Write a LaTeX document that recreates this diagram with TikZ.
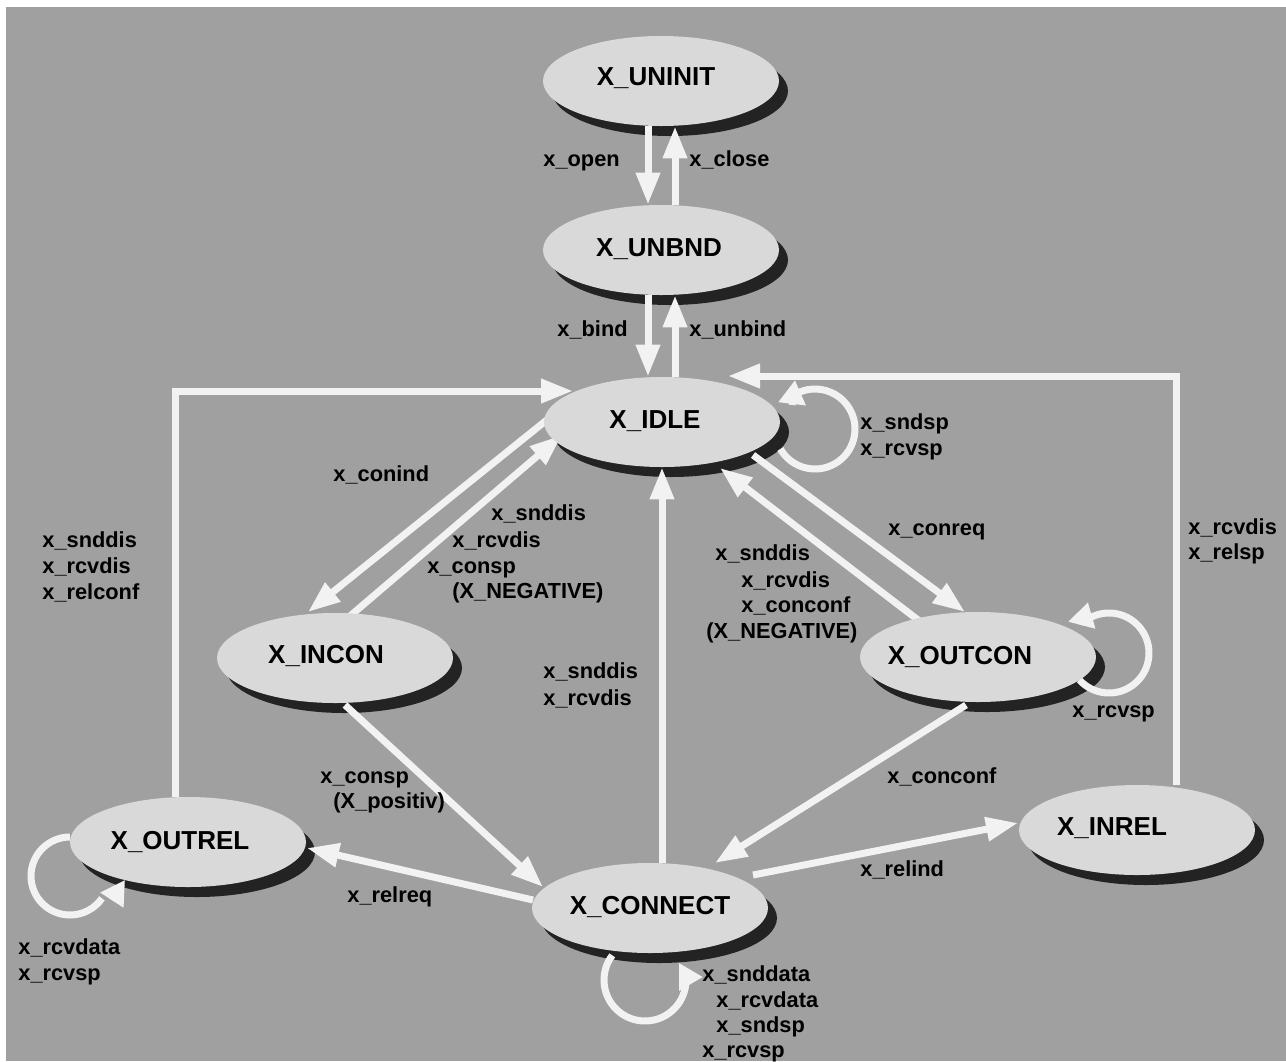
\documentclass[tikz,border=0pt]{standalone}
\usepackage{fontspec}
\setmainfont{Liberation Sans}
\usetikzlibrary{arrows.meta,shapes.geometric}
\definecolor{bg}{HTML}{A0A0A0}
\definecolor{statefill}{HTML}{D9D9D9}
\definecolor{shadowc}{HTML}{232323}
\definecolor{linec}{HTML}{F2F2F2}
\pgfdeclarelayer{canvas}
\pgfdeclarelayer{shadows}
\pgfdeclarelayer{edges}
\pgfsetlayers{canvas,shadows,edges,main}

\begin{document}
\begin{tikzpicture}[x=0.5pt,y=-0.5pt,
  state/.style={ellipse, fill=statefill, minimum width=118pt, minimum height=45pt, inner sep=0pt},
  statename/.style={font=\bfseries\fontsize{13}{15}\selectfont, inner sep=0pt, text height=0.716em, text depth=0pt},
  lbl/.style={font=\bfseries\fontsize{10.9}{13}\selectfont, inner sep=0pt, anchor=base west},
  edge/.style={color=linec, line width=3.5pt, -{Triangle[length=16pt,width=11.5pt]}},
  ring/.style={color=linec, line width=3.5pt},
  loophead/.style={color=linec, line width=3.5pt, -{Triangle[length=12pt,width=13pt]}},
]
% canvas
\useasboundingbox (0,0) rectangle (1286,1061);
\begin{pgfonlayer}{canvas}
\fill[white] (0,0) rectangle (1286,1061);
\fill[bg] (6,7) rectangle (1286,1061);
\end{pgfonlayer}

% states
\node[state] (uninit)  at (661,81)   {};
\node[state] (unbnd)   at (661,250)  {};
\node[state] (idle)    at (662,422)  {};
\node[state] (incon)   at (335,658)  {};
\node[state] (outcon)  at (978,657)  {};
\node[state] (outrel)  at (188,842)  {};
\node[state] (connect) at (650,908)  {};
\node[state] (inrel)   at (1137,830) {};

\node[statename] (uninitT)  at (656,78)   {X\_UNINIT};
\node[statename] (unbndT)   at (659,249)  {X\_UNBND};
\node[statename] (idleT)    at (655,421)  {X\_IDLE};
\node[statename] (inconT)   at (326,656)  {X\_INCON};
\node[statename] (outconT)  at (960,657)  {X\_OUTCON};
\node[statename] (outrelT)  at (180,842)  {X\_OUTREL};
\node[statename] (connectT) at (650,907)  {X\_CONNECT};
\node[statename] (inrelT)   at (1112,828) {X\_INREL};

% drop shadows of the states
\begin{pgfonlayer}{shadows}
\foreach \s in {uninit,unbnd,idle,incon,outcon,outrel,connect,inrel}
  \fill[shadowc] ([shift={(9,10)}]\s.center) ellipse[x radius=118, y radius=45];
\end{pgfonlayer}

% transitions
\begin{pgfonlayer}{edges}
\draw[edge] ([xshift=-6.5pt]uninit.south) -- ([xshift=-6.5pt]unbnd.north);
\draw[edge] ([xshift=7pt]unbnd.north) -- ([xshift=7pt]uninit.south);
\draw[edge] ([xshift=-6.5pt]unbnd.south) -- ([xshift=-7pt]idle.north);
\draw[edge] ([xshift=6.5pt]idle.north) -- ([xshift=7pt]unbnd.south);

\draw[edge] ([shift={(-114,-3)}]idle.center) -- ([shift={(-27,-46)}]incon.center);
\draw[edge] ([shift={(8,-36)}]incon.center) -- ([shift={(-100,13)}]idle.center);
\draw[edge] ([shift={(91,33)}]idle.center) -- ([shift={(-13,-45)}]outcon.center);
\draw[edge] ([shift={(-56,-34)}]outcon.center) -- ([shift={(58,46)}]idle.center);
\draw[edge] (idle.south |- connect.north) -- (idle.south);
\draw[edge] ([shift={(10,47)}]incon.center) -- ([shift={(-107,-21)}]connect.center);
\draw[edge] ([shift={(-12,48)}]outcon.center) -- ([shift={(65,-45)}]connect.center);
\draw[edge] ([shift={(103,-33)}]connect.center) -- ([shift={(-119,-7)}]inrel.center);
\draw[edge] ([shift={(-117,-8)}]connect.center) -- ([shift={(119,6)}]outrel.center);
\draw[edge] ([xshift=-6.5pt]outrel.north) |- ([shift={(-89,-31)}]idle.center);
\draw[edge] ([xshift=19.5pt]inrel.north) |- ([shift={(66,-46)}]idle.center);

% self loops
\coordinate (idleC)    at ([shift={(153,7)}]idle.center);
\coordinate (outconC)  at ([shift={(131,-4)}]outcon.center);
\coordinate (connectC) at ([shift={(-5,72)}]connect.center);
\coordinate (outrelC)  at ([shift={(-118,34)}]outrel.center);

\draw[ring] (idleC) ++(150:40) arc[start angle=150, end angle=-132, radius=40];
\draw[loophead] ([shift={(-23,-24)}]idleC) -- ([shift={(-20,-49)}]idleC);

\draw[ring] (outconC) ++(138:40) arc[start angle=138, end angle=-125, radius=40];
\draw[loophead] ([shift={(-27,-28)}]outconC) -- ([shift={(-21,-51)}]outconC);

\draw[ring] (connectC) ++(217:41) arc[start angle=217, end angle=0, radius=41];
\draw[loophead] ([shift={(35,-3)}]connectC) -- ([shift={(58,-3)}]connectC);

\draw[ring] (outrelC) ++(270:39) arc[start angle=270, end angle=35, radius=39];
\draw[loophead] ([shift={(42,24)}]outrelC) -- ([shift={(55,4)}]outrelC);
\end{pgfonlayer}

% transition labels
\node[lbl] (lOpen)   at (543,166) {x\_open};
\node[lbl] (lClose)  at (689,166) {x\_close};
\node[lbl] (lBind)   at (557,336) {x\_bind};
\node[lbl] (lUnbind) at (689,336) {x\_unbind};

\node[lbl] (lIdle1) at (860,429) {x\_sndsp};
\node[lbl] (lIdle2) at (860,455) {x\_rcvsp};

\node[lbl] (lConind) at (333,481) {x\_conind};

\node[lbl] (lOr1) at (42,547) {x\_snddis};
\node[lbl] (lOr2) at (42,573) {x\_rcvdis};
\node[lbl] (lOr3) at (42,599) {x\_relconf};

\node[lbl] (lIn1) at (491,520) {x\_snddis};
\node[lbl] (lIn2) at (452,547) {x\_rcvdis};
\node[lbl] (lIn3) at (427,573) {x\_consp};
\node[lbl] (lIn4) at (452,598) {(X\_NEGATIVE)};

\node[lbl] (lConreq) at (888,535) {x\_conreq};

\node[lbl] (lOc1) at (715,560) {x\_snddis};
\node[lbl] (lOc2) at (741,587) {x\_rcvdis};
\node[lbl] (lOc3) at (741,612) {x\_conconf};
\node[lbl] (lOc4) at (706,638) {(X\_NEGATIVE)};

\node[lbl] (lIr1) at (1188,534) {x\_rcvdis};
\node[lbl] (lIr2) at (1188,559) {x\_relsp};

\node[lbl] (lCi1) at (543,678) {x\_snddis};
\node[lbl] (lCi2) at (543,705) {x\_rcvdis};

\node[lbl] (lOcLoop) at (1072,717) {x\_rcvsp};

\node[lbl] (lConsp1) at (320,783) {x\_consp};
\node[lbl] (lConsp2) at (333,808) {(X\_positiv)};

\node[lbl] (lConconf) at (887,783) {x\_conconf};
\node[lbl] (lRelind)  at (860,876) {x\_relind};
\node[lbl] (lRelreq)  at (347,902) {x\_relreq};

\node[lbl] (lOrl1) at (18,954) {x\_rcvdata};
\node[lbl] (lOrl2) at (18,980) {x\_rcvsp};

\node[lbl] (lCl1) at (702,981)  {x\_snddata};
\node[lbl] (lCl2) at (716,1007) {x\_rcvdata};
\node[lbl] (lCl3) at (716,1032) {x\_sndsp};
\node[lbl] (lCl4) at (702,1057) {x\_rcvsp};
\end{tikzpicture}
\end{document}
